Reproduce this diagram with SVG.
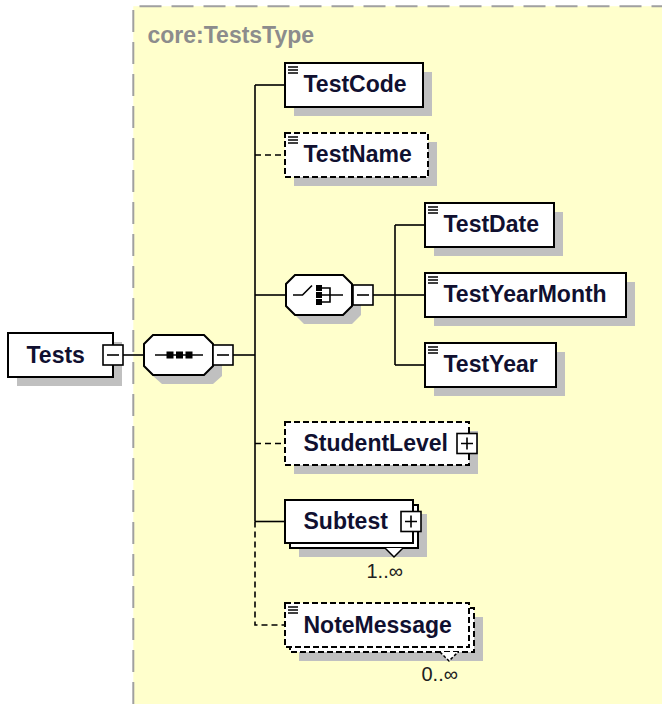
<svg xmlns="http://www.w3.org/2000/svg" width="662" height="704" viewBox="0 0 662 704">
<style>
.bg{fill:#ffffcc}
.tb{fill:none;stroke:#a0a0a0;stroke-width:2;stroke-dasharray:22 10}
.box{fill:#fff;stroke:#000;stroke-width:2}
.dbox{fill:#fff;stroke:#000;stroke-width:2;stroke-dasharray:6 3}
.sh{fill:#c0c0c0}
.ln{fill:none;stroke:#000;stroke-width:1.6}
.dln{fill:none;stroke:#000;stroke-width:1.6;stroke-dasharray:6 4}
.name{font-family:"Liberation Sans",Arial,sans-serif;font-weight:bold;font-size:23px;fill:#101030}
.occ{font-family:"Liberation Sans",Arial,sans-serif;font-size:20px;fill:#202020;text-anchor:end}
.type{font-family:"Liberation Sans",Arial,sans-serif;font-weight:bold;font-size:23px;fill:#8c8c8c}
.btn{fill:#fff;stroke:#000;stroke-width:1.6}
.ico{stroke:#000;stroke-width:1.3}
.sq{fill:#000}
</style>
<defs>
<g id="eicon"><path class="ico" d="M3,4H13M3,7H13M3,10H13"/></g>
</defs>

<g id="complexType">
<rect class="bg" x="133.3" y="6.2" width="530" height="700"/>
<path class="tb" d="M133.3,704V6.2H662"/>
<text class="type" x="147.5" y="43">core:TestsType</text>
</g>

<g id="connectors">
<path class="ln" d="M123,355H144"/>
<path class="ln" d="M233,355H255"/>
<path class="ln" d="M255,85V521.5"/>
<path class="ln" d="M255,85H285"/>
<path class="ln" d="M255,295H286"/>
<path class="ln" d="M255,521.5H285"/>
<path class="dln" d="M255,155H285"/>
<path class="dln" d="M255,443.5H285"/>
<path class="dln" d="M255,521.5V625H285"/>
<path class="ln" d="M373,295H395"/>
<path class="ln" d="M395,225V365"/>
<path class="ln" d="M395,225H425"/>
<path class="ln" d="M395,295H425"/>
<path class="ln" d="M395,365H425"/>
</g>

<g id="node-Tests">
<rect class="sh" x="17" y="342" width="105" height="44"/>
<rect class="box" x="8" y="333" width="105" height="44"/>
<text class="name" x="26.5" y="362.5">Tests</text>
<rect class="btn" x="103" y="345" width="20" height="20"/>
<path class="ln" d="M107,355H119"/>
</g>

<g id="node-sequence">
<path class="sh" d="M162,344H213L222,353V376L213,384H162L153,376V353Z"/>
<path class="box" d="M153,335H204L213,344V366L204,375H153L144,366V344Z"/>
<path class="ln" d="M155,355H203"/>
<rect class="sq" x="166.5" y="351.5" width="7" height="7"/>
<rect class="sq" x="176" y="351.5" width="7" height="7"/>
<rect class="sq" x="185.5" y="351.5" width="7" height="7"/>
<rect class="btn" x="213" y="345" width="20" height="20"/>
<path class="ln" d="M217,355H229"/>
</g>

<g id="node-TestCode">
<rect class="sh" x="294" y="72" width="138" height="44"/>
<rect class="box" x="285" y="63" width="138" height="44"/>
<use href="#eicon" x="285" y="63"/>
<text class="name" x="303.5" y="92">TestCode</text>
</g>

<g id="node-TestName">
<rect class="sh" x="294" y="142" width="143" height="44"/>
<rect class="dbox" x="285" y="133" width="143" height="44"/>
<use href="#eicon" x="285" y="133"/>
<text class="name" x="303.5" y="162">TestName</text>
</g>

<g id="node-choice">
<path class="sh" d="M304,284H352L361,293V315L352,324H304L295,315V293Z"/>
<path class="box" d="M295,275H343L352,284V306L343,315H295L286,306V284Z"/>
<path class="ln" d="M293,295H302.5L312,285.5"/>
<rect class="sq" x="316" y="285" width="6" height="6"/>
<rect class="sq" x="316" y="292" width="6" height="6"/>
<rect class="sq" x="316" y="299" width="6" height="6"/>
<path class="ln" d="M322,288H330V302H322M322,295H343"/>
<rect class="btn" x="353" y="285" width="20" height="20"/>
<path class="ln" d="M357,295H369"/>
</g>

<g id="node-TestDate">
<rect class="sh" x="434" y="212" width="129" height="44"/>
<rect class="box" x="425" y="203" width="129" height="44"/>
<use href="#eicon" x="425" y="203"/>
<text class="name" x="443.5" y="232">TestDate</text>
</g>

<g id="node-TestYearMonth">
<rect class="sh" x="434" y="282" width="201" height="44"/>
<rect class="box" x="425" y="273" width="201" height="44"/>
<use href="#eicon" x="425" y="273"/>
<text class="name" x="443.5" y="302">TestYearMonth</text>
</g>

<g id="node-TestYear">
<rect class="sh" x="434" y="352" width="131" height="44"/>
<rect class="box" x="425" y="343" width="131" height="44"/>
<use href="#eicon" x="425" y="343"/>
<text class="name" x="443.5" y="372">TestYear</text>
</g>

<g id="node-StudentLevel">
<rect class="sh" x="294" y="431" width="184" height="43"/>
<rect class="dbox" x="285" y="422" width="184" height="43"/>
<text class="name" x="303.5" y="451">StudentLevel</text>
<rect class="btn" x="457" y="433.5" width="20" height="20"/>
<path class="ln" d="M461,443.5H473M467,437.5V449.5"/>
</g>

<g id="node-Subtest">
<rect class="sh" x="299" y="514" width="128" height="43"/>
<rect class="box" x="290" y="505" width="128" height="43"/>
<rect class="box" x="285" y="500" width="128" height="43"/>
<text class="name" x="303.5" y="529">Subtest</text>
<rect class="btn" x="401" y="511.5" width="20" height="20"/>
<path class="ln" d="M405,521.5H417M411,515.5V527.5"/>
<path d="M385,548L394,557L403,548" fill="#fff" stroke="#000" stroke-width="1.5"/>
<text class="occ" x="403" y="578">1..∞</text>
</g>

<g id="node-NoteMessage">
<rect class="sh" x="299" y="617" width="184" height="44"/>
<rect class="dbox" x="290" y="608" width="184" height="44"/>
<rect class="dbox" x="285" y="603" width="184" height="44"/>
<use href="#eicon" x="285" y="603"/>
<text class="name" x="303.5" y="632.5">NoteMessage</text>
<path d="M440,652L449,661L458,652" fill="#fff" stroke="#000" stroke-width="1.5" stroke-dasharray="3 2"/>
<text class="occ" x="458" y="681">0..∞</text>
</g>
</svg>
